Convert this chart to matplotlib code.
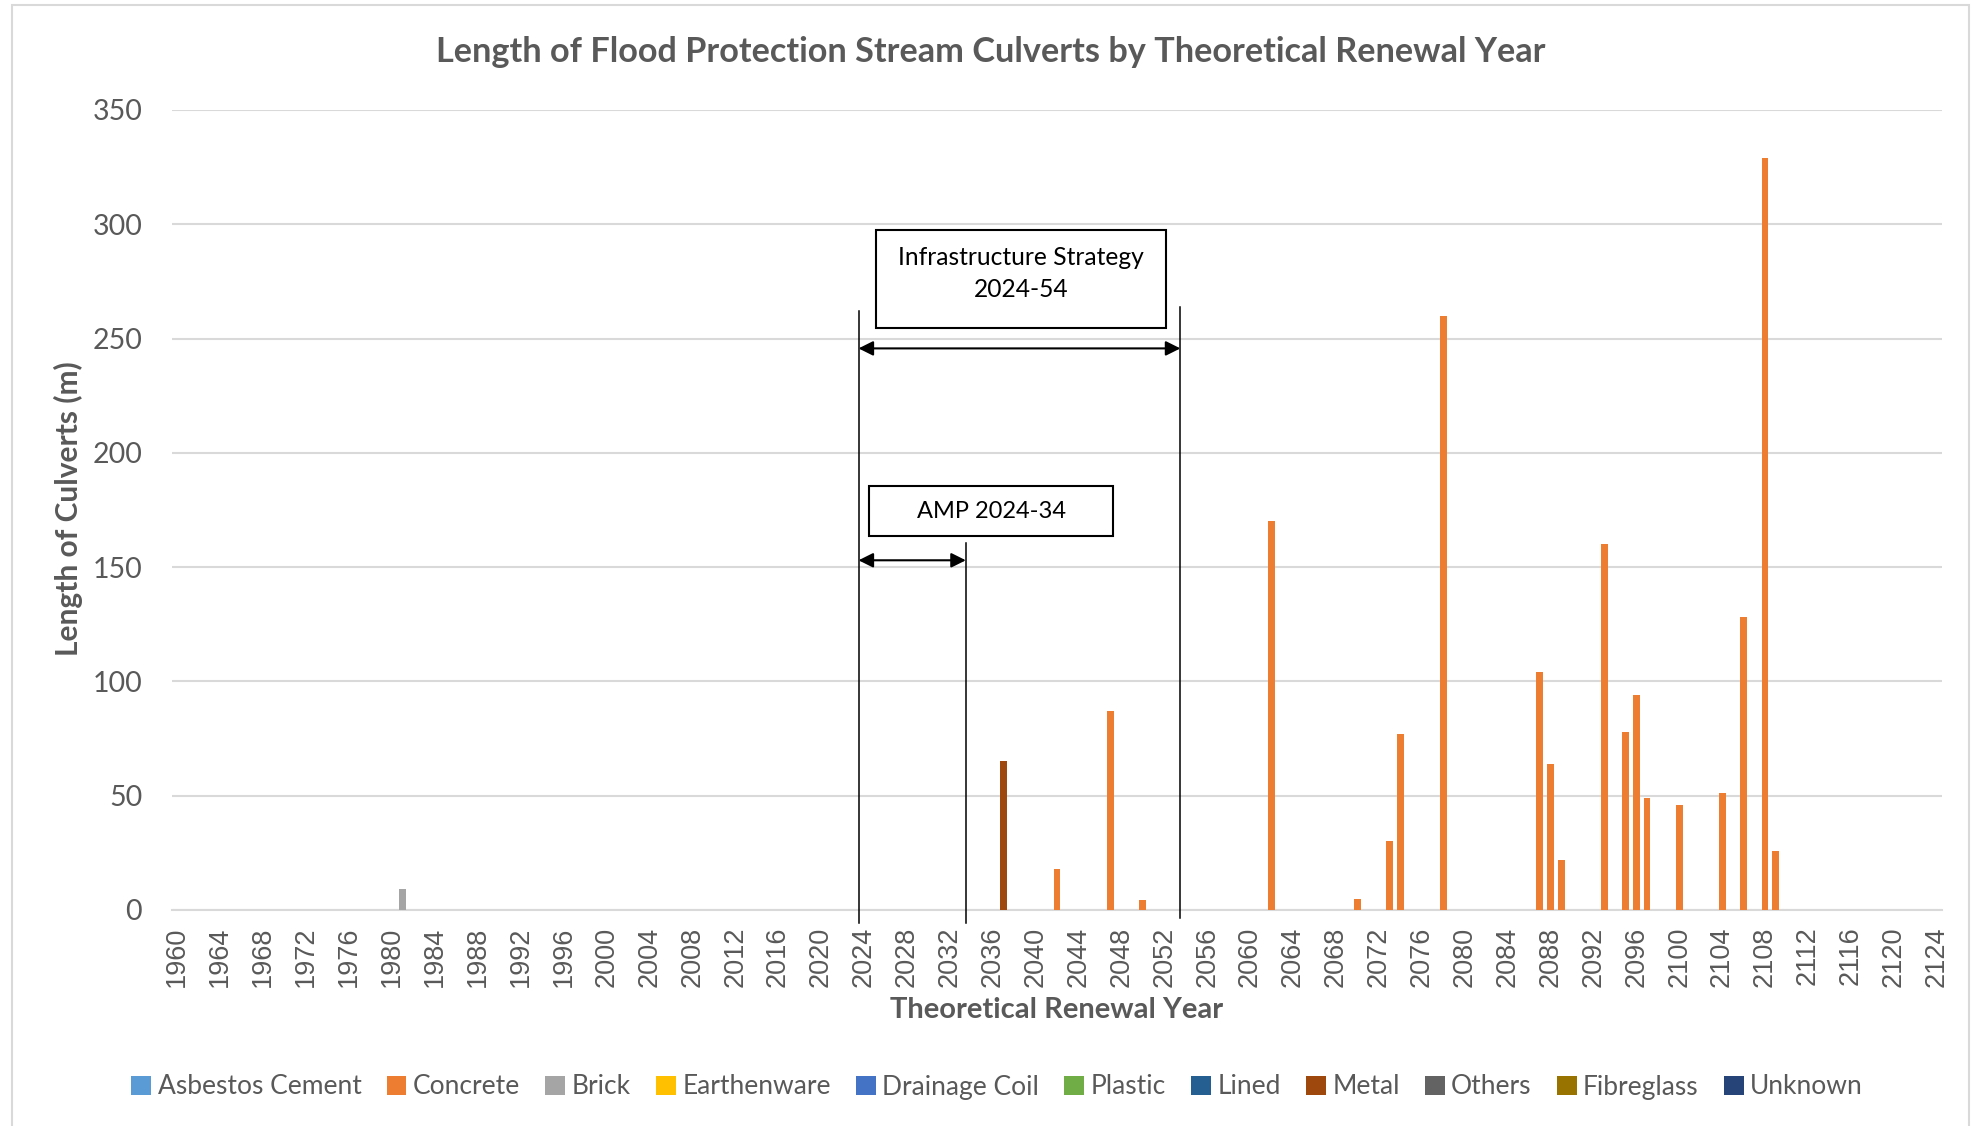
import matplotlib
matplotlib.use("Agg")
import matplotlib.pyplot as plt
from matplotlib.patches import Rectangle
import numpy as np

# ---- data ----
years = list(range(1960, 2125))
tick_years = list(range(1960, 2125, 4))

materials = ["Asbestos Cement", "Concrete", "Brick", "Earthenware", "Drainage Coil",
             "Plastic", "Lined", "Metal", "Others", "Fibreglass", "Unknown"]
colors = ["#5B9BD5", "#ED7D31", "#A5A5A5", "#FFC000", "#4472C4",
          "#70AD47", "#255E91", "#9E480E", "#636363", "#997300", "#264478"]

concrete_years = [2042, 2047, 2050, 2062, 2070, 2073, 2074, 2078, 2087, 2088,
                  2089, 2093, 2095, 2096, 2097, 2100, 2104, 2106, 2108, 2109]
concrete_len = [18, 87, 4.5, 170, 5, 30, 77, 260, 104, 64,
                22, 160, 78, 94, 49, 46, 51, 128, 329, 26]
brick_years = [1981]
brick_len = [9]
metal_years = [2037]
metal_len = [65]

# planning periods shown above the bars
amp_period = (2024, 2034)
strategy_period = (2024, 2054)

# ---- build stacked series on the full year axis ----
series = {m: np.zeros(len(years)) for m in materials}
for m, ys, vs in [("Concrete", concrete_years, concrete_len),
                  ("Brick", brick_years, brick_len),
                  ("Metal", metal_years, metal_len)]:
    for y, v in zip(ys, vs):
        series[m][years.index(y)] += v

W, H = 1973, 1126
fig = plt.figure(figsize=(W / 100, H / 100), dpi=100)
fig.patch.set_facecolor("white")

# chart frame
fig.patches.append(Rectangle((12 / W, -0.02), (1969 - 12) / W, 1.02 - 5 / H,
                             transform=fig.transFigure, fill=False,
                             edgecolor="#D9D9D9", linewidth=1.5))

ax = fig.add_axes([172 / W, (H - 910) / H, (1942 - 172) / W, 800 / H])
x = np.array(years)
bottom = np.zeros(len(years))
for m, c in zip(materials, colors):
    ax.bar(x, series[m], width=0.65, bottom=bottom, color=c, label=m,
           edgecolor="none", zorder=3)
    bottom += series[m]

ax.set_xlim(years[0] - 0.5, years[-1] + 0.5)
ax.set_ylim(0, 350)
ax.set_yticks(range(0, 351, 50))
ax.set_xticks(tick_years)
ax.set_xticklabels([str(t) for t in tick_years], rotation=90,
                   fontfamily="Liberation Sans", fontsize=19.5, color="#595959")
for lab in ax.get_yticklabels():
    lab.set_fontfamily("Lato")
    lab.set_fontsize(20.5)
    lab.set_color("#595959")
ax.tick_params(axis="both", length=0)
ax.tick_params(axis="x", pad=12)
ax.tick_params(axis="y", pad=21.5)
ax.grid(axis="y", color="#D9D9D9", linewidth=1.5, zorder=0)
for s in ["top", "right", "left"]:
    ax.spines[s].set_visible(False)
ax.spines["bottom"].set_color("#D9D9D9")
ax.spines["bottom"].set_linewidth(1.5)
ax.set_facecolor("none")

# titles
fig.text(991 / W, (H - 52) / H, "Length of Flood Protection Stream Culverts by Theoretical Renewal Year",
         ha="center", va="center", fontfamily="Lato", fontweight="bold",
         fontsize=24.7, color="#595959")
fig.text(1057 / W, (H - 1010) / H, "Theoretical Renewal Year", ha="center", va="center",
         fontfamily="Lato", fontweight="bold", fontsize=21, color="#595959")
fig.text(68 / W, (H - 509) / H, "Length of Culverts (m)", ha="center", va="center",
         rotation=90, fontfamily="Lato", fontweight="bold", fontsize=21.5, color="#595959")

# period markers: boundary lines, arrows and labelled boxes
start, amp_end = amp_period[0] - 0.5, amp_period[1] - 0.5
strat_end = strategy_period[1] - 0.5
ax.plot([start, start], [-5.7, 262], color="black", lw=1.1, clip_on=False, zorder=5)
ax.plot([amp_end, amp_end], [-5.7, 160.5], color="black", lw=1.1, clip_on=False, zorder=5)
ax.plot([strat_end, strat_end], [-3.5, 264], color="black", lw=1.1, clip_on=False, zorder=5)

arrow_kw = dict(arrowstyle="<|-|>", color="black", lw=1.5, mutation_scale=22,
                shrinkA=0, shrinkB=0)
ax.annotate("", xy=(strat_end, 245.7), xytext=(start, 245.7), arrowprops=arrow_kw, zorder=6)
ax.annotate("", xy=(amp_end, 153.0), xytext=(start, 153.0), arrowprops=arrow_kw, zorder=6)

ax.add_patch(Rectangle((2025.1, 254.5), 2052.2 - 2025.1, 297.3 - 254.5,
                       facecolor="white", edgecolor="black", lw=1.5, zorder=6))
ax.text(2038.65, 285.5, "Infrastructure Strategy", ha="center", va="center",
        fontfamily="Lato", fontsize=17.7, color="black", zorder=7)
ax.text(2038.65, 271.3, "%d-%02d" % (strategy_period[0], strategy_period[1] % 100),
        ha="center", va="center", fontfamily="Lato", fontsize=17.7, color="black", zorder=7)

ax.add_patch(Rectangle((2024.5, 163.5), 2047.2 - 2024.5, 185.4 - 163.5,
                       facecolor="white", edgecolor="black", lw=1.5, zorder=6))
ax.text(2035.85, 174.2, "AMP %d-%02d" % (amp_period[0], amp_period[1] % 100),
        ha="center", va="center", fontfamily="Lato", fontsize=17, color="black", zorder=7)

# legend
leg = fig.legend(loc="center", bbox_to_anchor=(0.5054, (H - 1087) / H), ncol=11,
                 frameon=False, prop={"family": "Lato", "size": 19},
                 handlelength=0.75, handleheight=0.75, handletextpad=0.25,
                 columnspacing=0.95, labelcolor="#595959")

fig.savefig("out.png", dpi=100, facecolor="white")
